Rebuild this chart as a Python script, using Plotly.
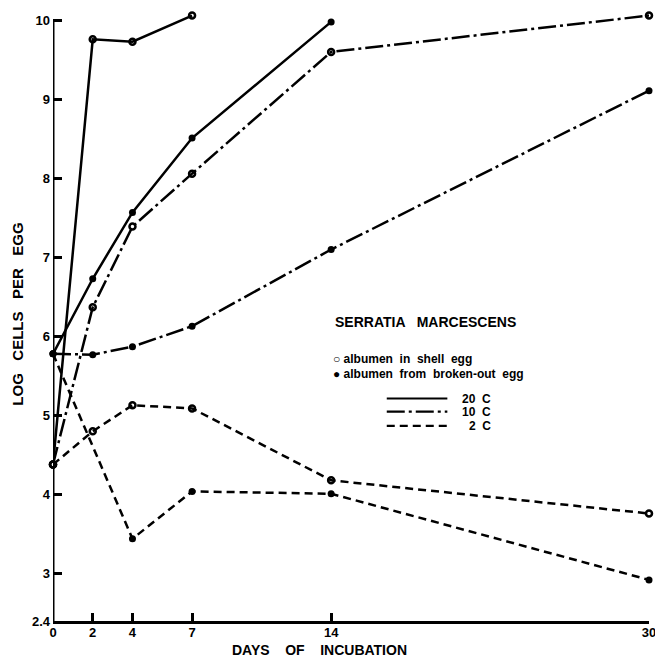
import plotly.graph_objects as go

# ---- data ----
shell_20_days = [0, 2, 4, 7]
shell_20 = [4.38, 9.76, 9.73, 10.06]
broken_20_days = [0, 2, 4, 7, 14]
broken_20 = [5.78, 6.73, 7.57, 8.51, 9.98]

shell_10_days = [0, 2, 4, 7, 14, 30]
shell_10 = [4.38, 6.37, 7.39, 8.06, 9.60, 10.06]
broken_10_days = [0, 2, 4, 7, 14, 30]
broken_10 = [5.78, 5.77, 5.87, 6.13, 7.10, 9.11]

shell_2_days = [0, 2, 4, 7, 14, 30]
shell_2 = [4.38, 4.80, 5.13, 5.09, 4.18, 3.76]
broken_2_days = [0, 4, 7, 14, 30]
broken_2 = [5.78, 3.44, 4.04, 4.01, 2.92]

y_ticks = [2.4, 3, 4, 5, 6, 7, 8, 9, 10]
y_tick_text = ["2.4", "3", "4", "5", "6", "7", "8", "9", "10"]
x_ticks = [0, 2, 4, 7, 14, 30]

SOLID = "solid"
DASHDOT = "18px,4px,3px,4px"
DASHED = "8px,5px"
FONT = "Liberation Sans"

fig = go.Figure()

def add(xs, ys, dash, shell):
    fig.add_trace(go.Scatter(
        x=xs, y=ys, mode="lines+markers",
        line=dict(color="black", width=2.5, dash=dash),
        marker=dict(symbol="circle-open" if shell else "circle",
                    size=6 if shell else 7, color="black",
                    line=dict(color="black", width=2.5 if shell else 0)),
        cliponaxis=False, showlegend=False, hoverinfo="x+y"))

add(shell_20_days, shell_20, SOLID, True)
add(broken_20_days, broken_20, SOLID, False)
add(shell_10_days, shell_10, DASHDOT, True)
add(broken_10_days, broken_10, DASHDOT, False)
add(shell_2_days, shell_2, DASHED, True)
add(broken_2_days, broken_2, DASHED, False)

# y axis line only up to 10
fig.add_shape(type="line", xref="x", yref="y", x0=0, x1=0, y0=2.4, y1=10,
              line=dict(color="black", width=3), layer="above")

# legend block
fig.add_annotation(x=18.77, y=6.18, text="<b>SERRATIA   MARCESCENS</b>", showarrow=False,
                   font=dict(family=FONT, size=14, color="black"), xanchor="center")
fig.add_annotation(x=14.0, y=5.71, text="<b>○ albumen  in  shell  egg</b>", showarrow=False,
                   font=dict(family=FONT, size=12, color="black"), xanchor="left")
fig.add_annotation(x=14.0, y=5.52, text="<b>● albumen  from  broken-out  egg</b>", showarrow=False,
                   font=dict(family=FONT, size=12, color="black"), xanchor="left")
for label, dash, yy in [("20  C", SOLID, 5.215), ("10  C", DASHDOT, 5.05), ("2  C", DASHED, 4.87)]:
    fig.add_shape(type="line", xref="x", yref="y", x0=16.8, x1=19.85, y0=yy, y1=yy,
                  line=dict(color="black", width=2.2, dash=dash))
    fig.add_annotation(x=22.1, y=yy, text="<b>" + label + "</b>", showarrow=False,
                       font=dict(family=FONT, size=12, color="black"), xanchor="right",
                       borderpad=0)

# axis titles
fig.add_annotation(xref="paper", yref="paper", x=-0.06, y=0.505, textangle=-90,
                   xanchor="center", yanchor="middle", borderpad=0,
                   text="<b>LOG   CELLS   PER   EGG</b>", showarrow=False,
                   font=dict(family=FONT, size=15, color="black"))
fig.add_annotation(xref="paper", yref="paper", x=0.447, y=-0.048,
                   xanchor="center", yanchor="middle",
                   text="<b>DAYS    OF    INCUBATION</b>", showarrow=False,
                   font=dict(family=FONT, size=14, color="black"))

# page body has an 8px margin, so the figure is shrunk by 8px to sit at the reference spot
fig.update_layout(
    width=655, height=656,
    margin=dict(l=45, r=14, t=6, b=43, autoexpand=False),
    plot_bgcolor="white", paper_bgcolor="white",
    font=dict(family=FONT, color="black"),
    xaxis=dict(range=[0, 30], tickvals=x_ticks, ticks="inside", ticklen=8, tickwidth=2.5,
               tickcolor="black", showline=True, linecolor="black", linewidth=3,
               showgrid=False, zeroline=False, automargin=False, ticklabelstandoff=-3,
               tickfont=dict(family=FONT, size=13, color="black", weight="bold")),
    yaxis=dict(range=[2.4, 10.08], tickvals=y_ticks, ticktext=y_tick_text, ticks="inside",
               ticklen=9, tickwidth=2.5, tickcolor="black", showline=False,
               showgrid=False, zeroline=False, ticklabelstandoff=2, automargin=False,
               tickfont=dict(family=FONT, size=13, color="black", weight="bold")),
)

fig.write_html("out.html")
